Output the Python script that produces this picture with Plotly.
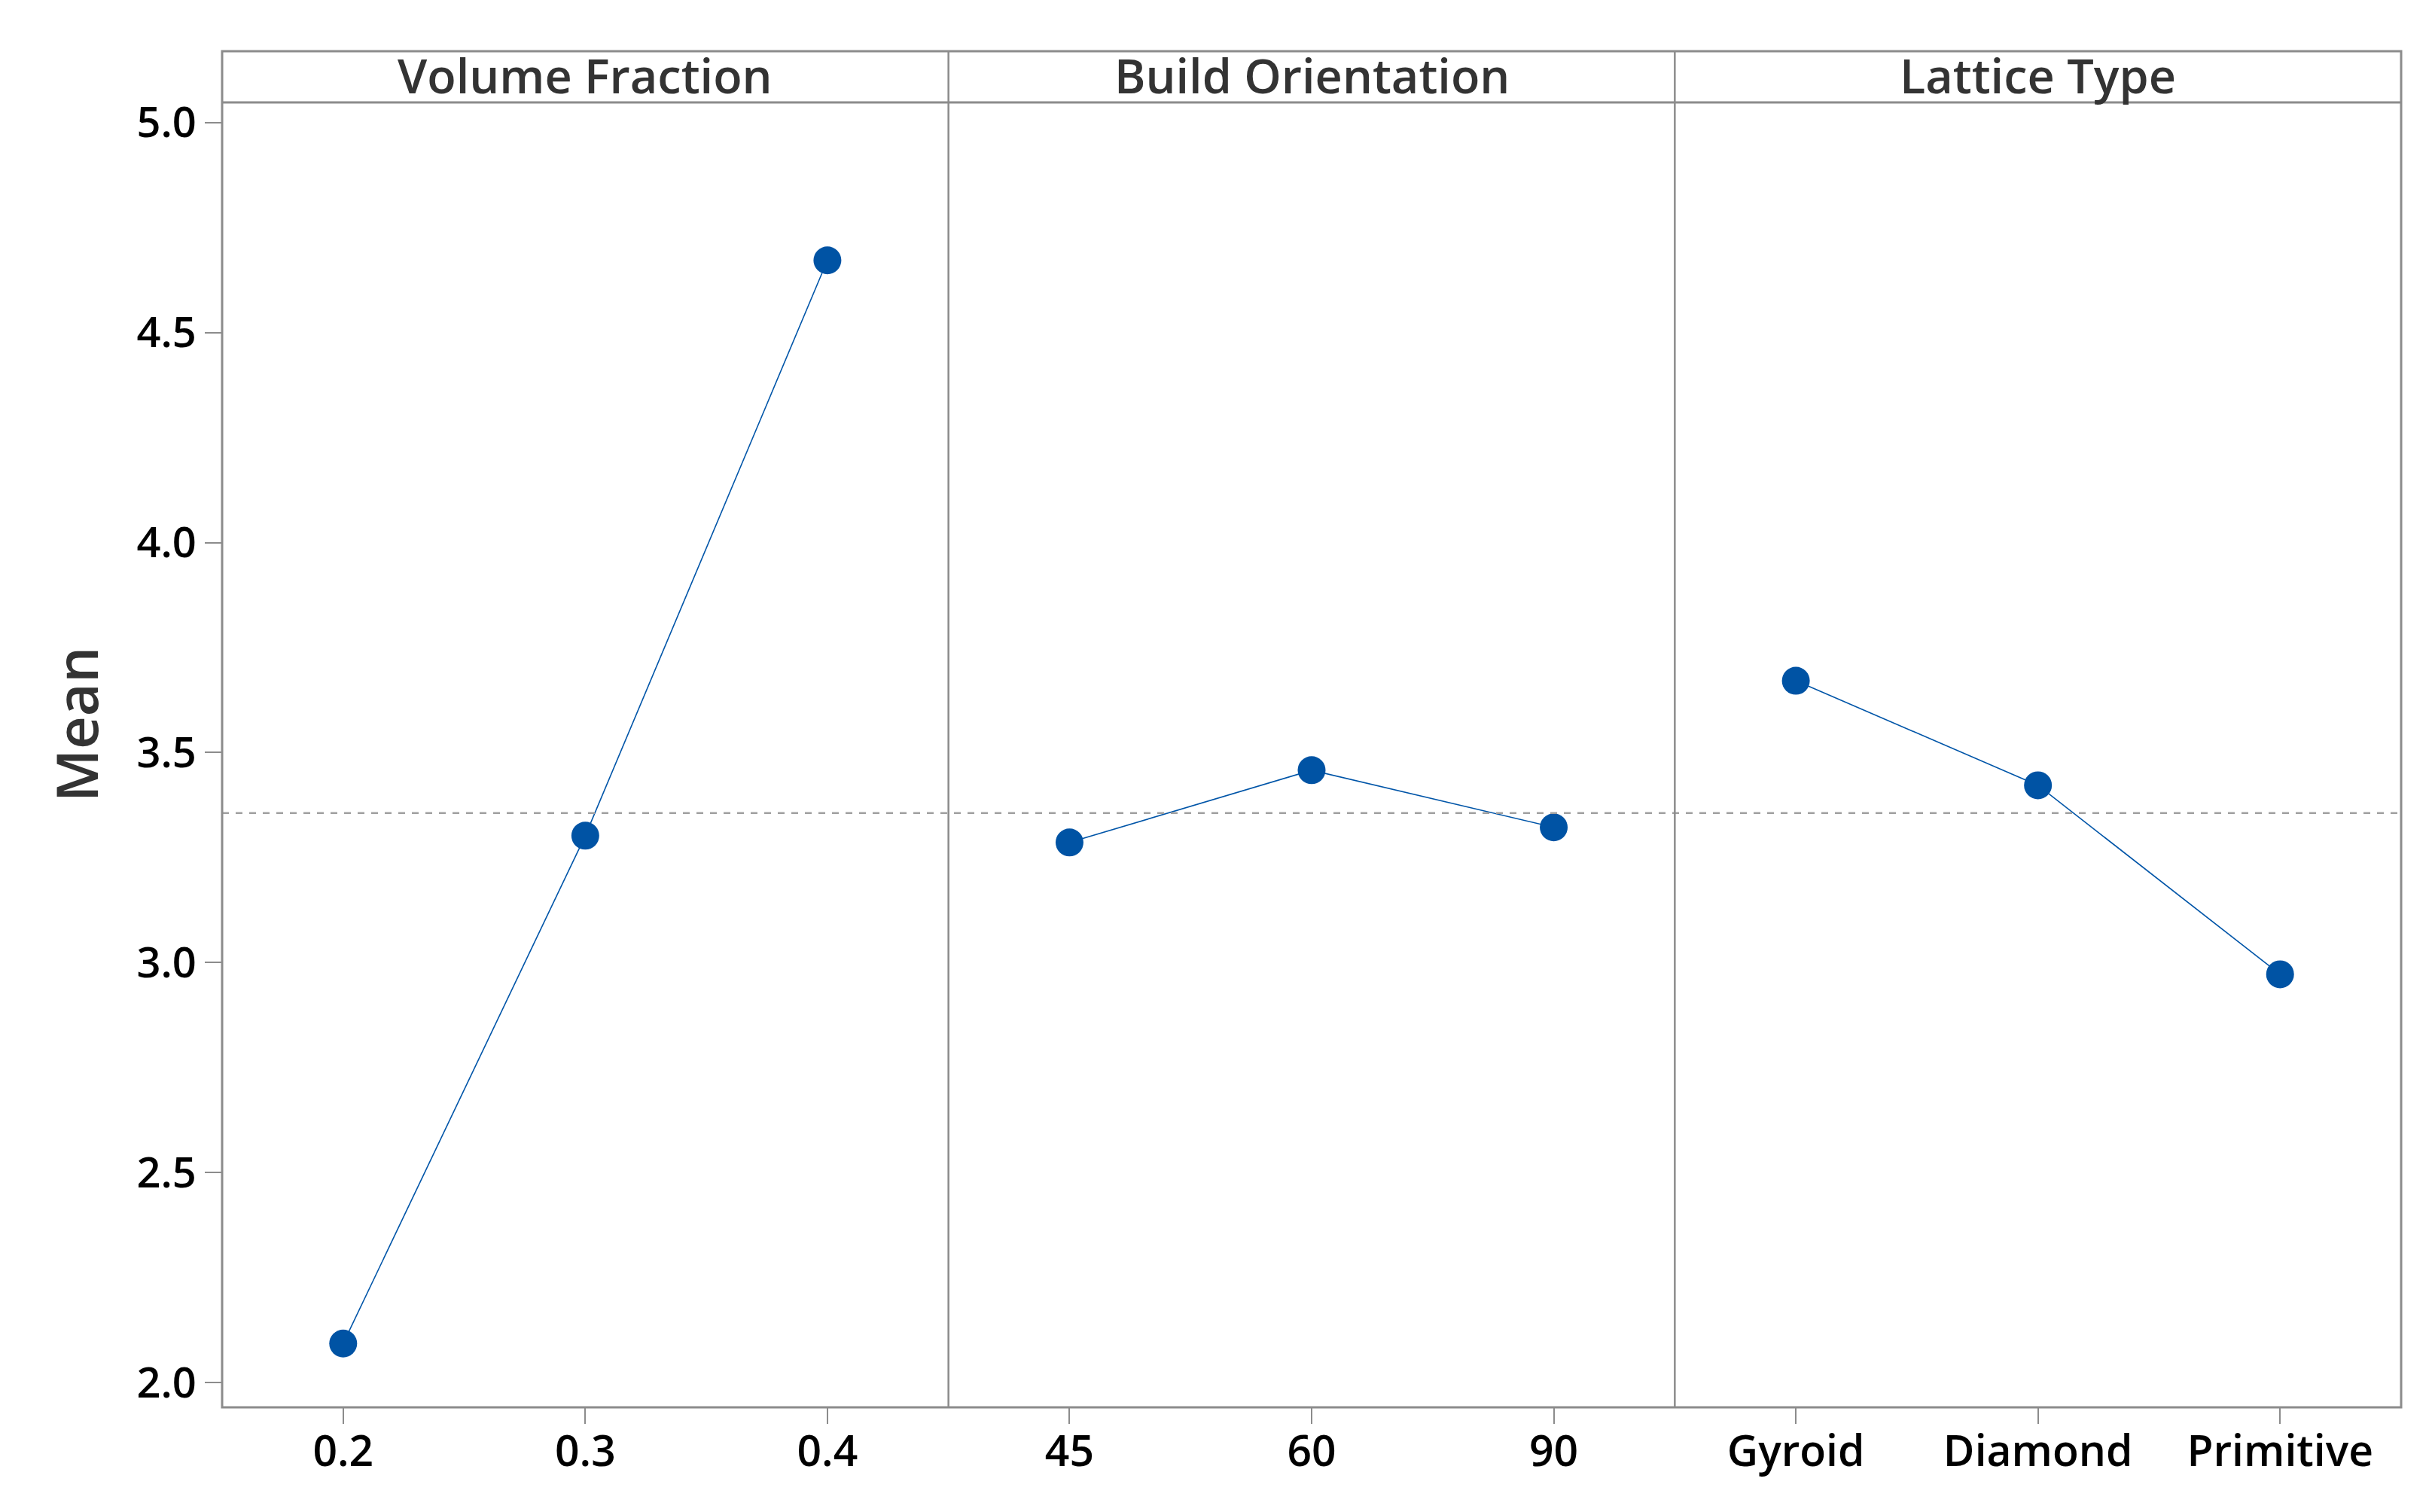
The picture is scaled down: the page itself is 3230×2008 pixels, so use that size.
import plotly.graph_objects as go
from plotly.subplots import make_subplots

# ---- data ----
factors = ["Volume Fraction", "Build Orientation", "Lattice Type"]
vf_levels = ["0.2", "0.3", "0.4"]
vf_means = [2.093, 3.302, 4.672]
bo_levels = ["45", "60", "90"]
bo_means = [3.286, 3.458, 3.322]
lt_levels = ["Gyroid", "Diamond", "Primitive"]
lt_means = [3.671, 3.422, 2.972]
grand_mean = 3.356
y_ticks = [2.0, 2.5, 3.0, 3.5, 4.0, 4.5, 5.0]

levels = [vf_levels, bo_levels, lt_levels]
means = [vf_means, bo_means, lt_means]

# page body has an 8px margin; compensate
OFF = 8
W, H = 3230 - 2 * OFF, 2008 - 2 * OFF
L = 295 - OFF
T = 136 - OFF
R = W - (3189 - OFF)
B = H - (1869 - OFF)
header_top_px = 68 - OFF

fig = make_subplots(rows=1, cols=3, shared_yaxes=True, horizontal_spacing=0)

line_col = "#0055A8"
frame_col = "#8C8C8C"
font_fam = "Open Sans, Noto Sans, sans-serif"

for i, (lv, mv) in enumerate(zip(levels, means)):
    fig.add_trace(
        go.Scatter(
            x=lv, y=mv, mode="lines+markers",
            line=dict(color=line_col, width=1.6),
            marker=dict(color="#0053A4", size=37),
            showlegend=False, hoverinfo="x+y",
        ),
        row=1, col=i + 1,
    )
    fig.update_xaxes(
        type="category", categoryorder="array", categoryarray=lv,
        range=[-0.5, 2.5],
        showline=False,
        ticks="outside", ticklen=21, tickwidth=2, tickcolor=frame_col,
        ticklabelstandoff=-12,
        showgrid=False, zeroline=False,
        tickfont=dict(family=font_fam, size=57, color="#000000", weight=600),
        row=1, col=i + 1,
    )

fig.update_yaxes(
    range=[1.941, 5.048], tickvals=y_ticks,
    ticktext=[f"{v:.1f}" for v in y_ticks],
    showline=False, showgrid=False, zeroline=False,
)
fig.update_yaxes(
    ticks="outside", ticklen=22, tickwidth=2, tickcolor=frame_col,
    tickfont=dict(family=font_fam, size=56, color="#000000", weight=600),
    row=1, col=1,
)

plot_h = H - T - B
hdr_y1 = 1 + (T - header_top_px) / plot_h

# grand mean reference line
fig.add_shape(type="line", xref="paper", yref="y", x0=0, x1=1,
              y0=grand_mean, y1=grand_mean,
              line=dict(color="#A0A0A0", width=2.5, dash="dash"))

# outer frame incl. header
fig.add_shape(type="rect", xref="paper", yref="paper", x0=0, x1=1, y0=0, y1=hdr_y1,
              line=dict(color=frame_col, width=3), fillcolor="rgba(0,0,0,0)")
# header bottom line
fig.add_shape(type="line", xref="paper", yref="paper", x0=0, x1=1, y0=1, y1=1,
              line=dict(color=frame_col, width=3))

doms = [fig.layout.xaxis.domain, fig.layout.xaxis2.domain, fig.layout.xaxis3.domain]
for k, (name, d) in enumerate(zip(factors, doms)):
    if k > 0:
        fig.add_shape(type="line", xref="paper", yref="paper", x0=d[0], x1=d[0],
                      y0=0, y1=hdr_y1, line=dict(color=frame_col, width=2.5))
    fig.add_annotation(x=(d[0] + d[1]) / 2, y=(1 + hdr_y1) / 2 + 3 / plot_h,
                       xref="paper", yref="paper", text=name, showarrow=False,
                       font=dict(family=font_fam, size=63, color="#333333", weight=600),
                       xanchor="center", yanchor="middle")

# y-axis title
fig.add_annotation(x=(100 - OFF - L) / (W - L - R), y=(1869 - 962) / plot_h,
                   xref="paper", yref="paper",
                   text="Mean", showarrow=False, textangle=-90,
                   font=dict(family=font_fam, size=76, color="#333333", weight=600),
                   xanchor="center", yanchor="middle")

fig.update_layout(
    width=W, height=H,
    margin=dict(l=L, r=R, t=T, b=B),
    paper_bgcolor="white", plot_bgcolor="white",
)

fig.write_html("out.html")
